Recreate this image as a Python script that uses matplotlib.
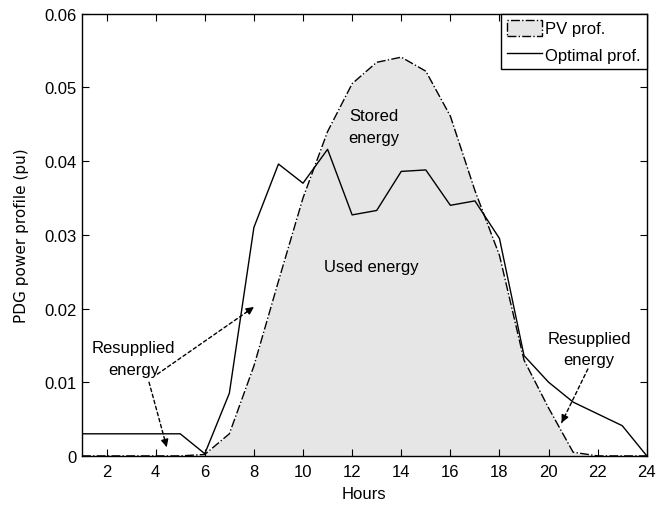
import matplotlib
matplotlib.use("Agg")
import matplotlib.pyplot as plt
from matplotlib.patches import Patch
from matplotlib.lines import Line2D

# hourly PV and optimal dispatch profiles (pu)
hours = list(range(1, 25))
pv_profile = [0, 0, 0, 0, 0, 0.0002, 0.003, 0.0122, 0.0237, 0.035, 0.044, 0.0505,
              0.0534, 0.0541, 0.0522, 0.0461, 0.036, 0.0272, 0.013, 0.0065, 0.0005, 0, 0, 0]
optimal_profile = [0.003, 0.003, 0.003, 0.003, 0.003, 0.0003, 0.0085, 0.031, 0.0396, 0.037,
                   0.0416, 0.0327, 0.0333, 0.0386, 0.0388, 0.034, 0.0346, 0.0295, 0.0136,
                   0.0100, 0.0073, 0.0057, 0.0041, 0.0]

xticks = list(range(2, 25, 2))
yticks = [0, 0.01, 0.02, 0.03, 0.04, 0.05, 0.06]
ytick_labels = ["0", "0.01", "0.02", "0.03", "0.04", "0.05", "0.06"]

FILL = "#e6e6e6"
plt.rcParams["font.family"] = ["Liberation Sans", "DejaVu Sans"]

fig = plt.figure(figsize=(6.56, 5.06), dpi=100)
ax = fig.add_axes([0.125, 0.097, 0.861, 0.874])

ax.fill_between(hours, pv_profile, 0, color=FILL, lw=0)
ax.plot(hours, pv_profile, color="k", lw=1.0, ls="-.")
ax.plot(hours, optimal_profile, color="k", lw=1.0)

ax.set_xlim(1, 24)
ax.set_ylim(0, 0.06)
ax.set_xticks(xticks)
ax.set_yticks(yticks)
ax.set_yticklabels(ytick_labels)
ax.tick_params(direction="in", top=True, right=True, length=5, labelsize=12)
ax.tick_params(axis="x", pad=6)
ax.tick_params(axis="y", pad=4)
for s in ax.spines.values():
    s.set_linewidth(1.0)

ax.set_xlabel("Hours", fontsize=12, labelpad=5)
ax.set_ylabel("PDG power profile (pu)", fontsize=11, family="DejaVu Sans", labelpad=11)

txt = dict(fontsize=12, ha="center", va="center", linespacing=1.55)
ax.text(12.9, 0.0447, "Stored\nenergy", **txt)
ax.text(12.8, 0.0257, "Used energy", **txt)
ax.text(3.1, 0.0132, "Resupplied\nenergy", **txt)
ax.text(21.65, 0.0145, "Resupplied\nenergy", **txt)


def dashed_arrow(start, end):
    # dashed shaft plus a small solid head at the end
    ax.annotate("", xy=end, xytext=start,
                arrowprops=dict(arrowstyle="-", ls=(0, (2.5, 2)), lw=1.0, color="k",
                                shrinkA=0, shrinkB=0))
    dx = end[0] - start[0]
    dy = end[1] - start[1]
    ax.annotate("", xy=end, xytext=(end[0] - dx * 0.08, end[1] - dy * 0.08),
                arrowprops=dict(arrowstyle="-|>", lw=1.0, color="k",
                                mutation_scale=11, shrinkA=0, shrinkB=0))


dashed_arrow((4.07, 0.0111), (8.0, 0.0202))
dashed_arrow((3.73, 0.0100), (4.45, 0.0012))
dashed_arrow((21.6, 0.0118), (20.53, 0.0045))

handles = [Patch(facecolor=FILL, edgecolor="k", linestyle="-.", lw=1.0),
           Line2D([], [], color="k", lw=1.0)]
leg = ax.legend(handles, ["PV prof.", "Optimal prof."], loc="upper right",
                borderaxespad=0, fancybox=False, framealpha=1, edgecolor="k",
                fontsize=12, handlelength=2.1, handleheight=1.1, handletextpad=0.2,
                borderpad=0.35, labelspacing=0.6)
leg.get_frame().set_linewidth(1.0)

fig.savefig("out.png", dpi=100)
